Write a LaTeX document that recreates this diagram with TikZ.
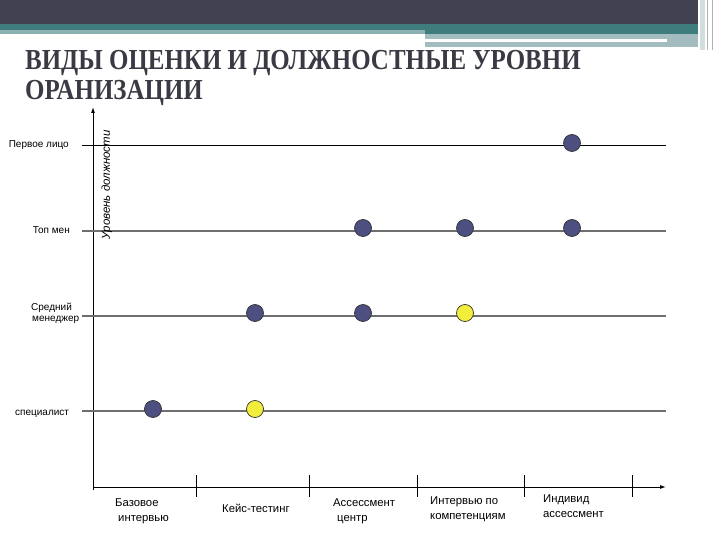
\documentclass[tikz,border=0pt]{standalone}
\usepackage{fontspec}
\setmainfont{Liberation Sans}
\newfontfamily\titlefont{Liberation Serif}
\usetikzlibrary{arrows.meta}
\definecolor{hdrdark}{HTML}{414152}
\definecolor{hdrteal}{HTML}{3F7C7E}
\definecolor{hdrlight}{HTML}{A3BCC0}
\definecolor{titlecol}{HTML}{3A3A44}
\definecolor{dotblue}{HTML}{4C4F80}
\definecolor{dotyellow}{HTML}{F2EC3C}
\definecolor{rowgray}{HTML}{6E6E6E}
\tikzset{
  dotb/.style={circle,draw=black!80,line width=0.7pt,fill=dotblue,minimum size=17pt,inner sep=0pt},
  doty/.style={circle,draw=black!80,line width=0.7pt,fill=dotyellow,minimum size=17pt,inner sep=0pt},
  rowline/.style={draw=rowgray,line width=1.3pt},
  axisline/.style={draw=black,line width=1pt},
  tickline/.style={draw=black,line width=1pt},
  lvl/.style={font=\fontsize{10}{12}\selectfont,inner sep=0pt,align=left},
  cat/.style={font=\fontsize{11.3}{14.5}\selectfont,inner sep=0pt,align=left,anchor=north west},
  ttl/.style={anchor=base west,inner sep=0pt,text=titlecol,font=\titlefont\bfseries\fontsize{29}{30}\selectfont},
}
\begin{document}
\begin{tikzpicture}[x=1pt,y=-1pt]
\useasboundingbox (0,0) rectangle (720,540);
% header
\fill[hdrdark] (0,0) rectangle (698,24);
\fill[hdrteal] (0,24) rectangle (698,34);
\fill[hdrteal!60] (0,30) rectangle (425,34);
\fill[hdrlight] (425,34) rectangle (698,47);
\fill[white] (425,39) rectangle (667,42);
\fill[hdrlight!50] (700,0) rectangle (705,50);
\fill[gray!60] (707,0) rectangle (708,50);
\fill[gray!60] (712,0) rectangle (713,50);
% title
\node[ttl] (title) at (25,70) {\scalebox{0.86}[1]{ВИДЫ ОЦЕНКИ И ДОЛЖНОСТНЫЕ УРОВНИ}};
\node[ttl] (title2) at (25,100) {\scalebox{0.86}[1]{ОРАНИЗАЦИИ}};
% axes
\coordinate (origin) at (93,487);
\coordinate (ytop) at (93,107);
\coordinate (xend) at (666,487);
\draw[axisline,-{Latex[length=6pt,width=4pt]}] (93,490) -- (ytop);
\draw[axisline,-{Latex[length=6pt,width=4pt]}] (origin) -- (xend);
\foreach \x/\n in {196/t1,309/t2,417/t3,524/t4,632/t5}{
  \coordinate (\n a) at (\x,475);
  \coordinate (\n b) at (\x,497);
  \draw[tickline] (\n a) -- (\n b);
}
% rows
\coordinate (r1a) at (82,146); \coordinate (r1b) at (666,146);
\coordinate (r2a) at (82,231); \coordinate (r2b) at (666,231);
\coordinate (r3a) at (82,316); \coordinate (r3b) at (666,316);
\coordinate (r4a) at (82,411); \coordinate (r4b) at (666,411);
\draw[axisline] (r1a) -- (r1b);
\draw[rowline] (r2a) -- (r2b);
\draw[rowline] (r3a) -- (r3b);
\draw[rowline] (r4a) -- (r4b);
% level labels
\node[lvl,anchor=east] (l1) at (69,145) {Первое лицо};
\node[lvl,anchor=east] (l2) at (70,230) {Топ мен};
\node[lvl,anchor=north west,align=left] (l3) at (31,303) {Средний\\[-1pt]\hspace*{1pt}менеджер};
\node[lvl,anchor=west] (l4) at (15,414) {специалист};
% axis title
\node[rotate=90,inner sep=0pt,font=\itshape\fontsize{11.5}{13}\selectfont] (ylab) at (107,185) {Уровень должности};
% categories
\node[cat] (c1) at (115,499) {Базовое\\\hspace*{3pt}интервью};
\node[cat] (c2) at (222,504) {Кейс-тестинг};
\node[cat] (c3) at (333,499) {Ассессмент\\\hspace*{4pt}центр};
\node[cat] (c4) at (430,497) {Интервью по\\компетенциям};
\node[cat] (c5) at (543,495) {Индивид\\ассессмент};
% dots
\node[dotb] (d1) at (572,143) {};
\node[dotb] (d2) at (363,228) {};
\node[dotb] (d3) at (465,228) {};
\node[dotb] (d4) at (572,228) {};
\node[dotb] (d5) at (255,313) {};
\node[dotb] (d6) at (363,313) {};
\node[doty] (d7) at (465,313) {};
\node[dotb] (d8) at (153,409) {};
\node[doty] (d9) at (255,409) {};
\end{tikzpicture}
\end{document}
